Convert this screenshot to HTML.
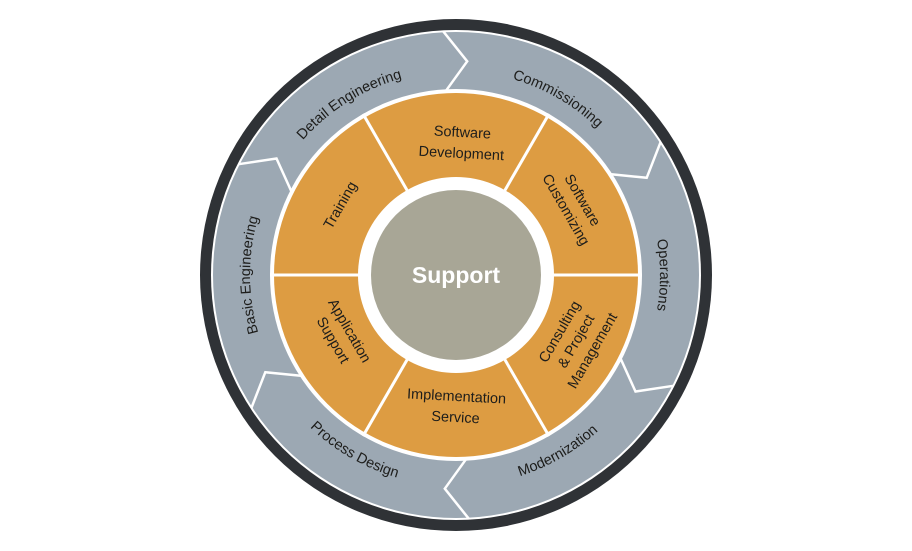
<!DOCTYPE html>
<html><head><style>
html,body{margin:0;padding:0;background:#fff;}
svg{display:block;}
text{font-family:"Liberation Sans",sans-serif;fill:#1d1d1b;font-size:14.5px;}
</style></head><body>
<svg width="912" height="551" viewBox="0 0 912 551" xmlns="http://www.w3.org/2000/svg">
<defs>
<path id="pBasic" d="M298.2,407.4 A206,206 0 0 1 298.2,142.6"/>
<path id="pDetail" d="M262.0,212.0 A204,204 0 0 1 484.4,73.0"/>
<path id="pComm" d="M420.6,74.1 A204,204 0 0 1 647.7,205.2"/>
<path id="pOper" d="M612.3,143.9 A204,204 0 0 1 612.3,406.1"/>
<path id="pMod" d="M419.4,482.8 A211,211 0 0 0 654.3,347.2"/>
<path id="pProc" d="M257.7,347.2 A211,211 0 0 0 492.6,482.8"/>
</defs>
<circle cx="456" cy="275" r="256" fill="#2f3236"/>
<circle cx="456" cy="275" r="245" fill="#fff"/>
<circle cx="456" cy="275" r="243" fill="#9ca8b3"/>
<circle cx="456" cy="275" r="186" fill="#fff"/>
<g fill="none" stroke="#fff" stroke-width="2.5">
<polyline points="443.2,31.3 467.2,61.3 446.3,90.3"/>
<polyline points="660.6,142.1 646.7,177.8 611.2,174.2"/>
<polyline points="673.4,385.8 635.5,391.5 620.8,359.0"/>
<polyline points="468.8,518.7 444.8,488.7 465.7,459.7"/>
<polyline points="251.4,407.9 265.3,372.2 300.8,375.8"/>
<polyline points="238.6,164.2 276.5,158.5 291.2,191.0"/>
</g>
<circle cx="456" cy="275" r="182" fill="#dd9c42"/>
<g stroke="#fff" stroke-width="3">
<line x1="270" y1="275" x2="642" y2="275"/>
<line x1="363" y1="113.9" x2="549" y2="436.1"/>
<line x1="549" y1="113.9" x2="363" y2="436.1"/>
</g>
<circle cx="456" cy="275" r="98" fill="#fff"/>
<circle cx="456" cy="275" r="85" fill="#a8a696"/>
<text x="456" y="283" text-anchor="middle" style="fill:#fff;font-size:23px;font-weight:bold">Support</text>

<text><textPath href="#pBasic" startOffset="50%" text-anchor="middle">Basic Engineering</textPath></text>
<text><textPath href="#pDetail" startOffset="50%" text-anchor="middle">Detail Engineering</textPath></text>
<text><textPath href="#pComm" startOffset="50%" text-anchor="middle">Commissioning</textPath></text>
<text><textPath href="#pOper" startOffset="50%" text-anchor="middle">Operations</textPath></text>
<text><textPath href="#pMod" startOffset="50%" text-anchor="middle">Modernization</textPath></text>
<text><textPath href="#pProc" startOffset="50%" text-anchor="middle">Process Design</textPath></text>

<g text-anchor="middle">
<text x="462" y="137" transform="rotate(3 462 140)">Software</text>
<text x="462" y="158" transform="rotate(3 462 140)">Development</text>
<text x="340" y="210" transform="rotate(-60 340 205)">Training</text>
<g transform="rotate(60 574 205)">
<text x="574" y="200">Software</text>
<text x="574" y="219">Customizing</text>
</g>
<g transform="rotate(60 342 335)">
<text x="342" y="331">Application</text>
<text x="342" y="350">Support</text>
</g>
<text x="456" y="401" transform="rotate(3 456 408)">Implementation</text>
<text x="456" y="422" transform="rotate(3 456 408)">Service</text>
<g transform="rotate(-60 574 340)">
<text x="574" y="328">Consulting</text>
<text x="574" y="347">&amp; Project</text>
<text x="574" y="366">Management</text>
</g>
</g>
</svg>
</body></html>
